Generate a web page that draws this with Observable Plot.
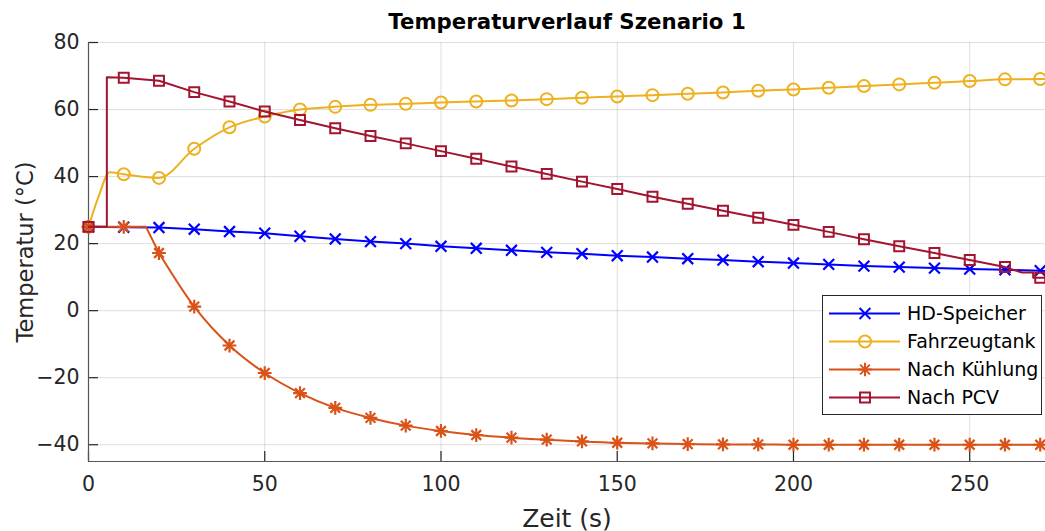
<!DOCTYPE html>
<html>
<head>
<meta charset="utf-8">
<script src="https://cdn.jsdelivr.net/npm/d3@7"></script>
<script src="https://cdn.jsdelivr.net/npm/@observablehq/plot@0.6"></script>
<style>
  html, body { margin: 0; padding: 0; background: #fff; }
  #chart { width: 1045px; height: 531px; }
</style>
</head>
<body>
<div id="chart"></div>
<script>
// ---------- data ----------
const title = "Temperaturverlauf Szenario 1";
const xLabel = "Zeit (s)";
const yLabel = "Temperatur (°C)";
const seriesNames = ["HD-Speicher", "Fahrzeugtank", "Nach Kühlung", "Nach PCV"];
const seriesColors = ["#0000FF", "#EDB120", "#D95319", "#A2142F"];
const xTicks = [0, 50, 100, 150, 200, 250];
const yTicks = [-40, -20, 0, 20, 40, 60, 80];

const time = [0, 10, 20, 30, 40, 50, 60, 70, 80, 90, 100, 110, 120, 130, 140,
              150, 160, 170, 180, 190, 200, 210, 220, 230, 240, 250, 260, 270];
const hdSpeicher = [25.0, 24.9, 24.8, 24.3, 23.6, 23.1, 22.2, 21.4, 20.6, 20.0, 19.2, 18.6, 18.0, 17.4,
                    17.0, 16.4, 16.0, 15.5, 15.1, 14.6, 14.2, 13.8, 13.3, 13.0, 12.7, 12.4, 12.2, 11.9];
const fahrzeugtank = [25.0, 40.7, 39.6, 48.3, 54.7, 57.9, 60.0, 60.8, 61.4, 61.7, 62.1, 62.4, 62.7, 63.1,
                      63.5, 63.9, 64.3, 64.7, 65.1, 65.6, 66.0, 66.5, 67.0, 67.5, 68.0, 68.5, 69.0, 69.1];
const nachKuehlung = [25.0, 25.0, 17.2, 1.2, -10.4, -18.6, -24.6, -29.0, -32.0, -34.3, -35.9, -37.1, -37.9, -38.5,
                      -39.0, -39.4, -39.6, -39.8, -39.9, -39.9, -40.0, -40.0, -40.0, -40.0, -40.0, -40.0, -40.0, -40.0];
const nachPCV = [25.0, 69.5, 68.6, 65.2, 62.4, 59.4, 56.9, 54.4, 52.1, 49.9, 47.6, 45.3, 43.0, 40.8,
                 38.5, 36.3, 34.0, 31.9, 29.8, 27.7, 25.6, 23.5, 21.3, 19.2, 17.2, 15.1, 13.0, 9.8];

// extra points of the continuous curves between the markers
const hdExtraT = [272];            const hdExtraV = [11.85];
const tankExtraT = [3, 6, 272];    const tankExtraV = [34.5, 41.3, 69.15];
const kuehlExtraT = [16.3, 272];   const kuehlExtraV = [25.0, -40.0];
const pcvExtraT = [5.2, 5.2, 264.8, 268, 268, 272];
const pcvExtraV = [25.0, 69.6, 11.4, 11.4, 9.8, 9.8];

// ---------- build tables ----------
function markers(values) { return time.map((t, i) => ({t, v: values[i]})); }
function curve(values, exT, exV) {
  return markers(values).concat(exT.map((t, i) => ({t, v: exV[i]}))).sort((a, b) => a.t - b.t);
}
const hdLine = curve(hdSpeicher, hdExtraT, hdExtraV);
const tankLine = curve(fahrzeugtank, tankExtraT, tankExtraV);
const kuehlLine = curve(nachKuehlung, kuehlExtraT, kuehlExtraV);
const kuehlLineA = kuehlLine.filter(d => d.t <= 20);
const kuehlLineB = kuehlLine.filter(d => d.t >= 20);
const pcvLine = curve(nachPCV, pcvExtraT, pcvExtraV);

const LW = 2;
const axisColor = "#262626";
const astR = 4.5;

const chart = Plot.plot({
  width: 1045,
  height: 531,
  marginLeft: 88,
  marginRight: 0,
  marginTop: 42,
  marginBottom: 70,
  x: {domain: [0, 271.5], label: null},
  y: {domain: [-45, 80], label: null},
  style: {fontFamily: "DejaVu Sans", fontSize: "20px", color: axisColor, background: "#fff", overflow: "visible"},
  marks: [
    Plot.gridX(xTicks, {stroke: axisColor, strokeOpacity: 0.15, strokeWidth: 1}),
    Plot.gridY(yTicks, {stroke: axisColor, strokeOpacity: 0.15, strokeWidth: 1}),
    Plot.axisX(xTicks, {tickSize: 0, tickPadding: 15, fontSize: 20.5, label: null, fill: axisColor}),
    Plot.axisY(yTicks, {tickSize: 0, tickPadding: 9, fontSize: 20.5, label: null, fill: axisColor}),
    Plot.tickY(yTicks, {y: d => d, insetRight: 947, stroke: axisColor, strokeWidth: 1.2}),
    Plot.tickX(xTicks, {x: d => d, insetTop: 409, stroke: axisColor, strokeWidth: 1.2}),
    Plot.ruleX([0], {stroke: "#555", strokeWidth: 1.2}),
    Plot.ruleY([-45], {stroke: "#555", strokeWidth: 1.2}),

    // HD-Speicher
    Plot.line(hdLine, {x: "t", y: "v", stroke: seriesColors[0], strokeWidth: LW, clip: true}),
    Plot.dot(markers(hdSpeicher), {x: "t", y: "v", symbol: "times", r: 5, stroke: seriesColors[0], strokeWidth: 2.2}),
    // Fahrzeugtank
    Plot.line(tankLine, {x: "t", y: "v", stroke: seriesColors[1], strokeWidth: LW, curve: "monotone-x", clip: true}),
    Plot.dot(markers(fahrzeugtank), {x: "t", y: "v", symbol: "circle", r: 6, stroke: seriesColors[1], strokeWidth: 2, fill: "none"}),
    // Nach Kühlung
    Plot.line(kuehlLineA, {x: "t", y: "v", stroke: seriesColors[2], strokeWidth: LW, clip: true}),
    Plot.line(kuehlLineB, {x: "t", y: "v", stroke: seriesColors[2], strokeWidth: LW, curve: "monotone-x", clip: true}),
    Plot.dot(markers(nachKuehlung), {x: "t", y: "v", symbol: "plus", r: astR, stroke: seriesColors[2], strokeWidth: 2.2}),
    Plot.dot(markers(nachKuehlung), {x: "t", y: "v", symbol: "times", r: astR, stroke: seriesColors[2], strokeWidth: 2.2}),
    // Nach PCV
    Plot.line(pcvLine, {x: "t", y: "v", stroke: seriesColors[3], strokeWidth: LW, clip: true}),
    Plot.dot(markers(nachPCV), {x: "t", y: "v", symbol: "square", r: 5.6, stroke: seriesColors[3], strokeWidth: 2, fill: "none"}),

    // texts
    Plot.text([title], {text: d => d, frameAnchor: "top", lineAnchor: "middle", textAnchor: "middle", dy: -20, fontWeight: "bold", fontSize: 21.3, fill: "#000"}),
    Plot.text([xLabel], {text: d => d, frameAnchor: "bottom", lineAnchor: "middle", textAnchor: "middle", dy: 57, fontSize: 25, fill: axisColor}),
    Plot.text([yLabel], {text: d => d, frameAnchor: "left", lineAnchor: "middle", textAnchor: "middle", dx: -63, rotate: -90, fontSize: 22.5, fill: axisColor})
  ]
});

// ---------- legend ----------
const svg = d3.select(chart);
const lg = svg.append("g").attr("class", "legend");
lg.append("rect")
  .attr("x", 822.5).attr("y", 295.5).attr("width", 219).attr("height", 119)
  .attr("fill", "#fff").attr("stroke", axisColor).attr("stroke-width", 1);
const rowY = [313.5, 341.5, 369.5, 397.5];
const symArea = r => Math.PI * r * r;
const legendSymbols = [
  [[d3.symbolTimes, symArea(5)]],
  [[d3.symbolCircle, symArea(6)]],
  [[d3.symbolPlus, symArea(astR)], [d3.symbolTimes, symArea(astR)]],
  [[d3.symbolSquare, symArea(5.6)]]
];
seriesNames.forEach((name, i) => {
  const g = lg.append("g").attr("transform", `translate(0,${rowY[i]})`);
  g.append("line").attr("x1", 829).attr("x2", 900).attr("y1", 0).attr("y2", 0)
    .attr("stroke", seriesColors[i]).attr("stroke-width", LW);
  legendSymbols[i].forEach(([type, size]) => {
    g.append("path").attr("d", d3.symbol(type, size)())
      .attr("transform", "translate(865,0)")
      .attr("fill", "none").attr("stroke", seriesColors[i]).attr("stroke-width", 2);
  });
  g.append("text").attr("x", 907).attr("y", 0).attr("dy", "0.35em")
    .attr("text-anchor", "start")
    .attr("font-size", 19).attr("fill", "#000").text(name);
});

document.getElementById("chart").appendChild(chart);
</script>
</body>
</html>
